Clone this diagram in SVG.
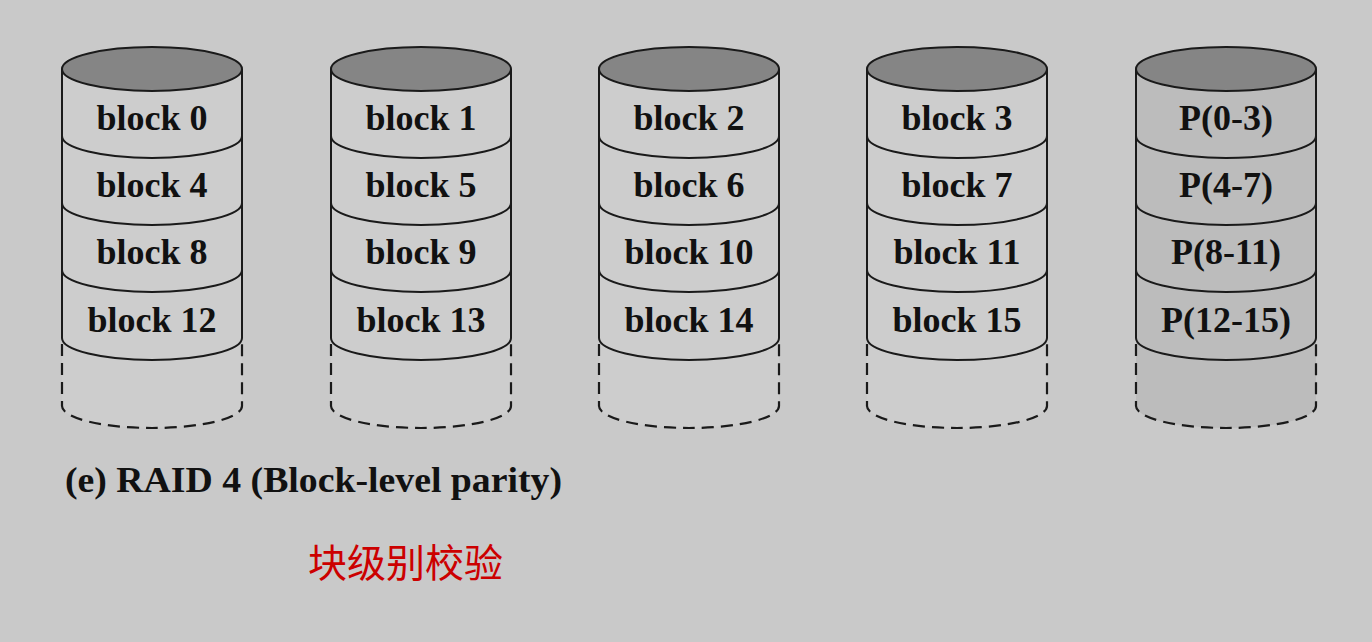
<svg xmlns="http://www.w3.org/2000/svg" xmlns:xlink="http://www.w3.org/1999/xlink" width="1372" height="642" viewBox="0 0 1372 642">
<style>
.body{stroke:none}
.data{fill:#cdcdcd}
.par{fill:#bcbcbc}
.top{fill:#858585;stroke:#1a1a1a;stroke-width:2}
.ln{fill:none;stroke:#1a1a1a;stroke-width:2}
.dash{fill:none;stroke:#1a1a1a;stroke-width:2.2;stroke-dasharray:12 7}
.lbl{font-family:"Liberation Serif","Times New Roman",serif;font-weight:bold;font-size:36px;fill:#111;text-anchor:middle}
.cap{font-family:"Liberation Serif","Times New Roman",serif;font-weight:bold;font-size:36px;fill:#111}
.cn{font-family:"Noto Sans CJK SC",sans-serif;font-size:39px;fill:#cc0000}
</style>
<defs>
<g id="frame">
<path class="ln" d="M-90 69 V338 M90 69 V338"/>
<path class="ln" d="M-90 136 A90 22 0 0 0 90 136 M-90 203 A90 22 0 0 0 90 203 M-90 270 A90 22 0 0 0 90 270 M-90 338 A90 22 0 0 0 90 338"/>
<path class="dash" d="M-90 344 V406 A90 22 0 0 0 90 406 V344"/>
<ellipse class="top" cx="0" cy="69" rx="90" ry="22"/>
</g>
<path id="shape" d="M-90 69 V406 A90 22 0 0 0 90 406 V69 Z"/>
</defs>
<rect width="1372" height="642" fill="#c9c9c9"/>
<g id="disk0" transform="translate(152,0)">
<use xlink:href="#shape" class="data"/><use xlink:href="#frame"/>
<text class="lbl" x="0" y="130">block 0</text><text class="lbl" x="0" y="197">block 4</text><text class="lbl" x="0" y="264">block 8</text><text class="lbl" x="0" y="332">block 12</text>
</g>
<g id="disk1" transform="translate(421,0)">
<use xlink:href="#shape" class="data"/><use xlink:href="#frame"/>
<text class="lbl" x="0" y="130">block 1</text><text class="lbl" x="0" y="197">block 5</text><text class="lbl" x="0" y="264">block 9</text><text class="lbl" x="0" y="332">block 13</text>
</g>
<g id="disk2" transform="translate(689,0)">
<use xlink:href="#shape" class="data"/><use xlink:href="#frame"/>
<text class="lbl" x="0" y="130">block 2</text><text class="lbl" x="0" y="197">block 6</text><text class="lbl" x="0" y="264">block 10</text><text class="lbl" x="0" y="332">block 14</text>
</g>
<g id="disk3" transform="translate(957,0)">
<use xlink:href="#shape" class="data"/><use xlink:href="#frame"/>
<text class="lbl" x="0" y="130">block 3</text><text class="lbl" x="0" y="197">block 7</text><text class="lbl" x="0" y="264">block 11</text><text class="lbl" x="0" y="332">block 15</text>
</g>
<g id="parity" transform="translate(1226,0)">
<use xlink:href="#shape" class="par"/><use xlink:href="#frame"/>
<text class="lbl" x="0" y="130">P(0-3)</text><text class="lbl" x="0" y="197">P(4-7)</text><text class="lbl" x="0" y="264">P(8-11)</text><text class="lbl" x="0" y="332">P(12-15)</text>
</g>
<g id="connectors"/>
<text class="cap" x="65" y="492" textLength="497" lengthAdjust="spacingAndGlyphs">(e) RAID 4 (Block-level parity)</text>
<text class="cn" x="308" y="577">块级别校验</text>
</svg>
